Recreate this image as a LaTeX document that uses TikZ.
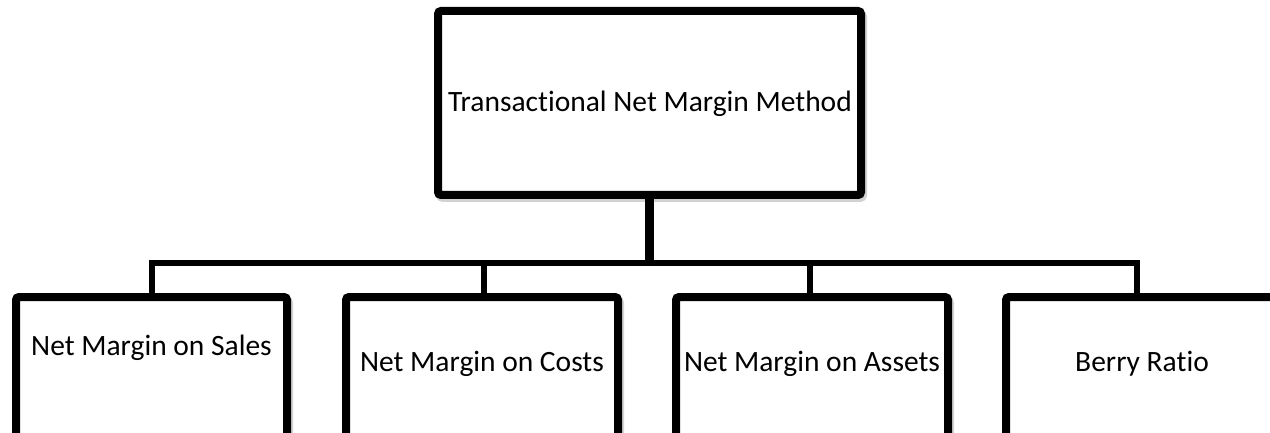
\documentclass[tikz,border=0pt]{standalone}
\usepackage{fontspec}
\setmainfont{Carlito}[Ligatures={NoCommon}]
\begin{document}
\begin{tikzpicture}[x=1pt,y=-1pt,
  box/.style={draw=black, line width=8pt, fill=white, rounded corners=3pt,
    rectangle, inner sep=0pt, minimum width=#1, anchor=center},
  box/.default=272pt,
  lbl/.style={font=\fontsize{29.5}{35}\selectfont, inner sep=0pt, anchor=center},
  stem/.style={line width=9pt},
  bar/.style={line width=6pt, line join=miter}
]
\useasboundingbox (0,0) rectangle (1270,433);
\clip (0,0) rectangle (1270,433);
% shadows
\foreach \x/\w/\yc/\h in {649.5/423/103/184, 151.5/271/383.5/173, 482/272/383.5/173, 812/272/383.5/173, 1142/272/383.5/173}{
  \draw[black!35, opacity=0.5, line width=8pt, rounded corners=3pt]
    (\x-\w/2+2,\yc-\h/2+3) rectangle (\x+\w/2+2,\yc+\h/2+3);
}
% top box
\node[box=423pt, minimum height=184pt] (top) at (649.5,103) {};
\node[lbl] (toptext) at (650,104) {Transactional Net Margin Method};
% bottom boxes
\node[box=271pt, minimum height=173pt] (b1) at (151.5,383.5) {};
\node[box, minimum height=173pt] (b2) at (482,383.5) {};
\node[box, minimum height=173pt] (b3) at (812,383.5) {};
\node[box, minimum height=173pt] (b4) at (1142,383.5) {};
\node[lbl] (t1) at (151.5,348) {Net Margin on Sales};
\node[lbl] (t2) at (482,364) {Net Margin on Costs};
\node[lbl] (t3) at (812,364) {Net Margin on Assets};
\node[lbl] (t4) at (1142,364) {Berry Ratio};
% connectors
\coordinate (barleft) at (152,263);
\coordinate (barright) at (1137,263);
\draw[stem] (top.south) -- (top.south |- barleft);
\draw[bar] ([xshift=0.5pt]b1.north) -- ([xshift=0.5pt]b1.north |- barleft) -- (barright) -- (barright |- b4.north);
\draw[bar] ([xshift=2pt]b2.north) -- ([xshift=2pt]b2.north |- barleft);
\draw[bar] ([xshift=-2pt]b3.north) -- ([xshift=-2pt]b3.north |- barleft);
\end{tikzpicture}
\end{document}
